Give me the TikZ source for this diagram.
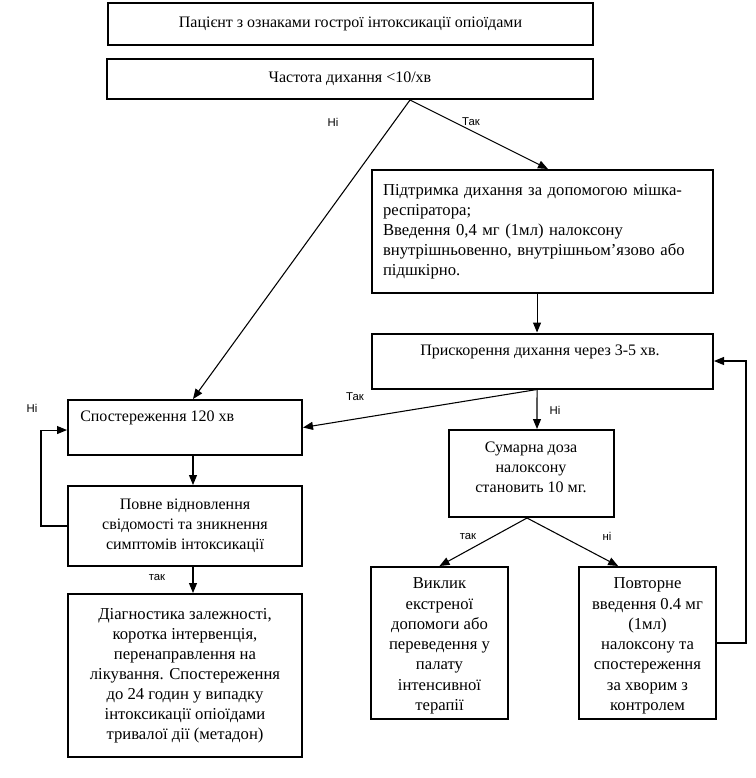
\documentclass[tikz,border=0pt]{standalone}
\usepackage{fontspec}
\setmainfont{Liberation Serif}
\setsansfont{Liberation Sans}
\usetikzlibrary{arrows.meta}
\begin{document}
\begin{tikzpicture}[x=0.75pt,y=-0.75pt,
  box/.style 2 args={draw,line width=1.5pt,minimum width=#1*0.75pt,minimum height=#2*0.75pt,inner sep=0pt,align=center,font=\fontsize{12}{15}\selectfont},
  txt/.style={inner sep=0pt,align=center,font=\fontsize{12.5}{15.2}\selectfont},
  arr/.style={-{Triangle[length=7.5pt,width=6pt]},line width=0.8pt},
  lbl/.style={font=\sffamily\fontsize{8.5}{10}\selectfont,inner sep=0pt}]
\useasboundingbox (0,0) rectangle (756,778);
\node[box={485}{42}] (b1) at (350.5,24) {Пацієнт з ознаками гострої інтоксикації опіоїдами};
\node[box={486}{40}] (b2) at (350,79) {Частота дихання <10/хв};
\node[box={341}{123},align=left,text width=319*0.75pt,inner xsep=11*0.75pt,font=\fontsize{12.5}{15}\selectfont] (b3) at (542.5,231.5) {Підтримка дихання за допомогою мішка-\\респіратора;\\Введення 0,4 мг (1мл) налоксону\\внутрішньовенно, внутрішньом’язово або\\підшкірно.};
\node[box={341}{55}] (b4) at (542.5,361) {};
\node[font=\fontsize{12}{15}\selectfont,inner sep=0pt] (t4) at (540,352) {Прискорення дихання через 3-5 хв.};
\node[box={234}{55}] (b5) at (185,427.5) {};
\node[font=\fontsize{12}{15}\selectfont,inner sep=0pt,anchor=west] (t5) at (80,418) {Спостереження 120 хв};
\node[box={165}{87}] (b6) at (531,473.5) {};
\node[txt,font=\fontsize{12}{15}\selectfont] (t6) at (531,467) {Сумарна доза\\налоксону\\становить 10 мг.};
\node[box={234}{80}] (b7) at (185,526) {Повне відновлення\\свідомості та зникнення\\симптомів інтоксикації};
\node[box={234}{163},font=\fontsize{12.5}{15}\selectfont] (b8) at (185,675.5) {Діагностика залежності,\\коротка інтервенція,\\перенаправлення на\\лікування. Спостереження\\до 24 годин у випадку\\інтоксикації опіоїдами\\тривалої дії (метадон)};
\node[box={137}{152}] (b9) at (439.5,643) {};
\node[txt] (t9) at (439.5,646) {Виклик\\екстреної\\допомоги або\\переведення у\\палату\\інтенсивної\\терапії};
\node[box={137}{152}] (b10) at (647.5,643) {};
\node[txt] (t10) at (647.5,646) {Повторне\\введення 0.4 мг\\(1мл)\\налоксону та\\спостереження\\за хворим з\\контролем};
% connectors
\coordinate (s2) at ([xshift=45pt]b2.south);
\draw[arr] (s2) -- ([xshift=4.1pt]b3.north);
\draw[arr] (s2) -- ([xshift=6pt]b5.north);
\draw[arr] ([xshift=-4.1pt]b3.south) -- ([xshift=-4.1pt]b4.north);
\coordinate (s4) at ([xshift=-4.1pt]b4.south);
\draw[arr] (s4) -- (b5.east);
\draw[arr] (s4) -- ([xshift=4.5pt]b6.north);
\draw[arr] ([xshift=6pt]b5.south) -- ([xshift=6pt]b7.north);
\draw[arr] ([xshift=6pt]b7.south) -- ([xshift=6pt]b8.north);
\draw[arr] (b7.west) -- ++(-26,0) |- ([yshift=-1.9pt]b5.west);
\coordinate (s6) at ([xshift=-3pt]b6.south);
\draw[arr] (s6) -- (b9.north);
\draw[arr] (s6) -- ([xshift=-22pt]b10.north);
\draw[arr] (b10.east) -- ++(29,0) |- (b4.east);
% labels
\node[lbl] (l1) at (333,122) {Ні};
\node[lbl] (l2) at (471,122) {Так};
\node[lbl] (l3) at (355,397) {Так};
\node[lbl] (l4) at (555,410) {Ні};
\node[lbl] (l5) at (32,408) {Ні};
\node[lbl] (l6) at (157,577) {так};
\node[lbl] (l7) at (468,536) {так};
\node[lbl] (l8) at (607,536) {ні};
\end{tikzpicture}
\end{document}
